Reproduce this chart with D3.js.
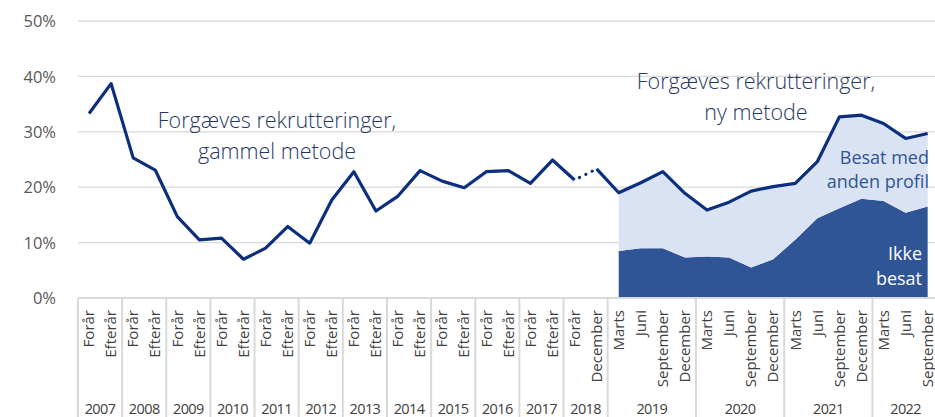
<!DOCTYPE html>
<html>
<head>
<meta charset="utf-8">
<script src="https://cdn.jsdelivr.net/npm/d3@7"></script>
<style>
  html, body { margin: 0; padding: 0; background: #fff; }
  svg { display: block; }
</style>
</head>
<body>
<svg id="chart" width="935" height="417"></svg>
<script>
// ---- Data ----
const years = ["2007","2008","2009","2010","2011","2012","2013","2014","2015","2016","2017","2018","2019","2020","2021","2022"];
const periodsPerYear = [
  ["Forår","Efterår"],["Forår","Efterår"],["Forår","Efterår"],["Forår","Efterår"],
  ["Forår","Efterår"],["Forår","Efterår"],["Forår","Efterår"],["Forår","Efterår"],
  ["Forår","Efterår"],["Forår","Efterår"],["Forår","Efterår"],["Forår","December"],
  ["Marts","Juni","September","December"],["Marts","Juni","September","December"],
  ["Marts","Juni","September","December"],["Marts","Juni","September"]
];
// Forgæves rekrutteringer, gammel metode (2007 Forår .. 2018 December), %
const gammelMetode = [33.3,38.7,25.3,23.1,14.7,10.5,10.8,7.0,9.0,12.9,9.9,17.7,22.8,15.7,18.4,23.0,21.1,19.9,22.8,23.0,20.7,24.9,21.3,23.3];
// Ny metode (2019 Marts .. 2022 September), %
const ikkeBesat   = [8.5,9.0,9.0,7.3,7.5,7.3,5.5,7.0,10.5,14.4,16.2,17.9,17.5,15.4,16.5];
const besatAnden  = [10.5,11.8,13.8,11.6,8.4,10.0,13.8,13.1,10.2,10.2,16.5,15.1,14.0,13.4,13.2];
const yTicks = [0,10,20,30,40,50];

(function () {
// ---- Build categories ----
const cats = [];
years.forEach((yr, yi) => periodsPerYear[yi].forEach(p => cats.push({key: yr + "-" + p, year: yr, label: p})));
const newStart = gammelMetode.length;

const svg = d3.select("#chart");
const W = 935, H = 417;
const mLeft = 78, mRight = 938.7, mTop = 21, mBottom = 298;

const x = d3.scaleBand().domain(cats.map(c => c.key)).range([mLeft, mRight]).paddingInner(0).paddingOuter(0);
const y = d3.scaleLinear().domain([0, 50]).range([mBottom, mTop]);
const cx = k => x(k) + x.bandwidth() / 2;

const gridColor = "#d9d9d9";
const textGray = "#595959";
const fontMain = "'Open Sans', 'Noto Sans', sans-serif";

// Gridlines
svg.append("g").selectAll("line").data(yTicks.filter(t => t > 0)).join("line")
  .attr("x1", mLeft).attr("x2", W).attr("y1", d => y(d)).attr("y2", d => y(d))
  .attr("stroke", gridColor).attr("stroke-width", 1.3);

// Y axis labels
const yAxis = d3.axisLeft(y).tickValues(yTicks).tickFormat(d => d + "%").tickSize(0).tickPadding(0);
const gy = svg.append("g").attr("transform", "translate(56,0)").call(yAxis);
gy.select(".domain").remove();
gy.selectAll("text").attr("font-family", fontMain).attr("font-size", 16.5).attr("fill", textGray).attr("dy", "0.35em");

// Stacked areas (new method)
const newCats = cats.slice(newStart);
const stackData = newCats.map((c, i) => ({key: c.key, ikke: ikkeBesat[i], anden: besatAnden[i]}));
const stacked = d3.stack().keys(["ikke", "anden"])(stackData);
const area = d3.area().x(d => cx(d.data.key)).y0(d => y(d[0])).y1(d => y(d[1]));
const areaColors = {ikke: "#2f5597", anden: "#dae3f3"};
svg.append("g").selectAll("path").data(stacked).join("path")
  .attr("d", area).attr("fill", d => areaColors[d.key]);

// Line
const lineColor = "#0b2f7e";
const line = d3.line().x(d => cx(d.key)).y(d => y(d.v));
const oldPts = gammelMetode.map((v, i) => ({key: cats[i].key, v}));
const newPts = newCats.map((c, i) => ({key: c.key, v: ikkeBesat[i] + besatAnden[i]}));
const seg1 = oldPts.slice(0, newStart - 1);
const segDot = oldPts.slice(newStart - 2, newStart);
const seg2 = [oldPts[newStart - 1]].concat(newPts);
const gl = svg.append("g").attr("fill", "none").attr("stroke", lineColor).attr("stroke-width", 3.2).attr("stroke-linejoin", "round");
gl.append("path").attr("d", line(seg1));
gl.append("path").attr("d", line(segDot)).attr("stroke-dasharray", "0.1 7").attr("stroke-linecap", "round").attr("stroke-dashoffset", -5.5);
gl.append("path").attr("d", line(seg2));

// X axis line
svg.append("line").attr("x1", mLeft).attr("x2", W).attr("y1", mBottom).attr("y2", mBottom)
  .attr("stroke", gridColor).attr("stroke-width", 2);

// Year separators
let idx = 0;
const yearBounds = [];
years.forEach((yr, yi) => {
  const n = periodsPerYear[yi].length;
  const start = x(cats[idx].key);
  const end = x(cats[idx + n - 1].key) + x.bandwidth();
  yearBounds.push({yr, start, end});
  idx += n;
});
svg.append("g").selectAll("line").data([mLeft].concat(yearBounds.map(d => d.end))).join("line")
  .attr("x1", d => d).attr("x2", d => d).attr("y1", mBottom).attr("y2", H)
  .attr("stroke", gridColor).attr("stroke-width", 2);

// Category labels (rotated)
const catFont = "'Liberation Sans Narrow', 'Open Sans', sans-serif";
svg.append("g").selectAll("text").data(cats).join("text")
  .attr("transform", d => `translate(${cx(d.key)},${mBottom + 12}) rotate(-90)`)
  .attr("text-anchor", "end").attr("dy", "0.35em")
  .attr("font-family", catFont).attr("font-size", 15).attr("fill", "#404040")
  .text(d => d.label);

// Year labels
svg.append("g").selectAll("text").data(yearBounds).join("text")
  .attr("x", d => (d.start + d.end) / 2).attr("y", 414)
  .attr("text-anchor", "middle")
  .attr("font-family", fontMain).attr("font-size", 14.5).attr("fill", "#404040")
  .attr("letter-spacing", "-0.6")
  .text(d => d.yr);

// Annotations
const annoColor = "#1f3864";
function multi(xp, yp, lines, opts) {
  const t = svg.append("text").attr("x", xp).attr("y", yp)
    .attr("text-anchor", opts.anchor).attr("font-family", fontMain)
    .attr("font-weight", opts.weight || 400)
    .attr("font-size", opts.size).attr("fill", opts.color);
  lines.forEach((l, i) => t.append("tspan").attr("x", xp).attr("dy", i === 0 ? 0 : opts.lh).text(l));
}
multi(277, 128, ["Forgæves rekrutteringer,", "gammel metode"], {anchor: "middle", size: 21.5, color: annoColor, lh: 31, weight: 300});
multi(756, 89, ["Forgæves rekrutteringer,", "ny metode"], {anchor: "middle", size: 21.5, color: annoColor, lh: 31, weight: 300});
multi(929, 164, ["Besat med", "anden profil"], {anchor: "end", size: 18, color: "#2f5597", lh: 24});
multi(922, 260, ["Ikke", "besat"], {anchor: "end", size: 18, color: "#ffffff", lh: 25});
})();
</script>
</body>
</html>
